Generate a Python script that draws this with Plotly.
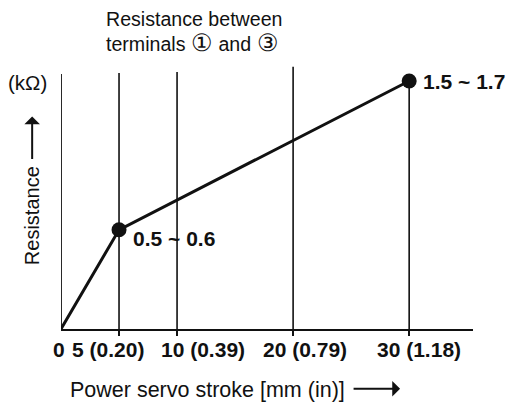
import plotly.graph_objects as go

# Power servo stroke (mm) and matching inch values for the tick labels
stroke_mm = [0, 5, 10, 20, 30]
stroke_in = ["", "0.20", "0.39", "0.79", "1.18"]

# Characteristic curve: stroke (mm) vs resistance between terminals 1 and 3 (kOhm)
curve_stroke = [0, 5, 30]
curve_resistance = [0, 0.6, 1.5]

# Specified resistance ranges at the two measuring points
spec_stroke = [5, 30]
spec_low = [0.5, 1.5]
spec_high = [0.6, 1.7]
spec_value = [0.6, 1.5]

FONT = "Liberation Sans, Arial, Helvetica, sans-serif"
INK = "#111111"

tick_text = [
    f"{mm}" if not inch else f"{mm} ({inch})"
    for mm, inch in zip(stroke_mm, stroke_in)
]
# horizontal nudges (px) so the wide stroke labels sit side by side
tick_nudge = [-2, -11, 26, 12, 10]

fig = go.Figure()

# Vertical guide at the last measuring point, from the axis up to the point
fig.add_trace(go.Scatter(
    x=[spec_stroke[-1], spec_stroke[-1]], y=[0, spec_value[-1]],
    mode="lines", line=dict(color=INK, width=1.6),
    hoverinfo="skip", showlegend=False,
))

# Resistance curve
fig.add_trace(go.Scatter(
    x=curve_stroke, y=curve_resistance,
    mode="lines", line=dict(color=INK, width=3),
    showlegend=False, cliponaxis=False,
))

# Measuring points
fig.add_trace(go.Scatter(
    x=spec_stroke, y=spec_value,
    mode="markers", marker=dict(color=INK, size=15),
    showlegend=False, cliponaxis=False,
))

# Vertical guides at the other stroke positions (top edge in paper units)
guide_top = {0: 0.948, 5: 0.952, 10: 0.955, 20: 0.975}
for xv in stroke_mm[:-1]:
    fig.add_shape(
        type="line", xref="x", yref="paper",
        x0=xv, x1=xv, y0=0, y1=guide_top[xv],
        line=dict(color=INK, width=1.8 if xv == 0 else 1.6),
    )

# Stroke labels under the axis
for xv, label, dx in zip(stroke_mm, tick_text, tick_nudge):
    fig.add_annotation(
        x=xv, y=0, xref="x", yref="paper",
        text=f"<b>{label}</b>", showarrow=False,
        xanchor="center", yanchor="middle", xshift=dx, yshift=-20,
        font=dict(family=FONT, size=21, color=INK),
    )

# Range labels next to the measuring points
for xs, lo, hi, yv, dy in zip(spec_stroke, spec_low, spec_high, spec_value, [-9, 0]):
    fig.add_annotation(
        x=xs, y=yv, xref="x", yref="y",
        text=f"<b>{lo} ~ {hi}</b>", showarrow=False,
        xanchor="left", yanchor="middle", xshift=12, yshift=dy,
        font=dict(family=FONT, size=21, color=INK),
    )

# Heading
circ = '<span style="font-size:24px">{}</span>'
fig.add_annotation(
    x=0.104, y=1.2, xref="paper", yref="paper",
    text="Resistance between<br>terminals " + circ.format("\u2460")
         + " and " + circ.format("\u2462"),
    showarrow=False, xanchor="left", yanchor="top", align="left",
    font=dict(family=FONT, size=19.6, color=INK),
)

# Unit label
fig.add_annotation(
    x=-0.133, y=0.918, xref="paper", yref="paper",
    text="(k\u03a9)", showarrow=False, xanchor="left", yanchor="middle",
    font=dict(family=FONT, size=20.5, color=INK),
)

# Y axis title with upward arrow
fig.add_annotation(
    x=-0.07, y=0.42, xref="paper", yref="paper",
    text="Resistance", textangle=-90, showarrow=False,
    xanchor="center", yanchor="middle",
    font=dict(family=FONT, size=20, color=INK),
)
fig.add_annotation(
    x=-0.07, y=0.79, xref="paper", yref="paper",
    ax=0, ay=44, axref="pixel", ayref="pixel",
    text="", showarrow=True, arrowhead=1, arrowsize=1.3, arrowwidth=2,
    arrowcolor=INK,
)

# X axis title with rightward arrow
fig.add_annotation(
    x=0.017, y=-0.227, xref="paper", yref="paper",
    text="Power servo stroke [mm (in)]", showarrow=False,
    xanchor="left", yanchor="middle",
    font=dict(family=FONT, size=21.5, color=INK),
)
fig.add_annotation(
    x=0.823, y=-0.222, xref="paper", yref="paper",
    ax=-48, ay=0, axref="pixel", ayref="pixel",
    text="", showarrow=True, arrowhead=1, arrowsize=1.3, arrowwidth=2,
    arrowcolor=INK,
)

fig.update_layout(
    width=515, height=404,
    margin=dict(l=61, r=42, t=60, b=75),
    paper_bgcolor="white", plot_bgcolor="white",
    xaxis=dict(
        range=[0, 35.5], showgrid=False, zeroline=False,
        showline=True, linecolor=INK, linewidth=2,
        tickmode="array", tickvals=stroke_mm[1:], showticklabels=False,
        ticks="outside", ticklen=5, tickwidth=1.5, tickcolor=INK,
    ),
    yaxis=dict(
        range=[0, 1.627], showgrid=False, zeroline=False,
        showline=False, showticklabels=False, ticks="",
    ),
)

fig.write_html("out.html")
